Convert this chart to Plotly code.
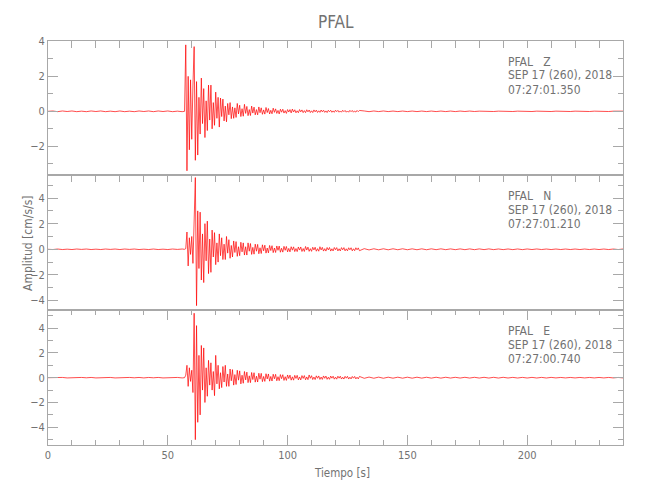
import numpy as np
import plotly.graph_objects as go

# ---------------- data ----------------
station = "PFAL"
components = ["Z", "N", "E"]
date_label = "SEP 17 (260), 2018"
start_times = ["07:27:01.350", "07:27:01.210", "07:27:00.740"]
x_title = "Tiempo [s]"
y_title = "Amplitud [cm/s/s]"

# sampling of the three segments (pre-event, strong motion, coda tail)
pre_t0, pre_dt = 0.0, 2.0
act_t0, act_dt = 57.0, 0.5
tail_t0, tail_dt = 132.0, 2.0

z_pre = [0.0, 0.02, -0.02, 0.02, -0.01, 0.02, -0.02, 0.01, -0.02, 0.02,
         -0.01, 0.02, -0.02, 0.01, -0.02, 0.02, -0.02, 0.01, -0.02, 0.02,
         -0.01, 0.02, -0.02, 0.02, -0.01, 0.02, -0.02, 0.01, -0.02]
z_act = [0.0,
         3.8, -3.4, 2.0, -2.2, 1.8, -1.6, 1.5, 3.7, -2.8, 1.7,
         -2.5, 0.8, -1.3, 1.9, -0.7, 1.3, -1.5, 0.6, -1.1, 1.5,
         -0.5, 1.5, -1.0, 0.5, -0.8, 1.1, -0.4, 0.8, -0.9, 0.76,
         -0.3, 0.7, -0.55, 0.3, -0.6, 0.45, -0.2, 0.5, -0.42, 0.25,
         -0.4, 0.2, -0.35, 0.45, -0.15, 0.35, -0.3, 0.15, -0.28, 0.4,
         -0.12, 0.28, -0.25, 0.1, -0.24, 0.3, -0.1, 0.24, -0.2, 0.1,
         -0.2, 0.25, -0.08, 0.2, -0.17, 0.08, -0.16, 0.22, -0.07, 0.16,
         -0.15, 0.06, -0.14, 0.18, -0.06, 0.14, -0.12, 0.05, -0.15, 0.12,
         -0.05, 0.12, -0.1, 0.04, -0.12, 0.1, -0.04, 0.1, -0.09, 0.13,
         -0.04, 0.09, -0.085, 0.03, -0.08, 0.1, -0.03, 0.08, -0.075, 0.04,
         -0.075, 0.09, -0.03, 0.075, -0.07, 0.03, -0.07, 0.08, -0.03, 0.07,
         -0.065, 0.03, -0.06, 0.075, -0.03, 0.065, -0.06, 0.025, -0.07, 0.06,
         -0.025, 0.06, -0.055, 0.025, -0.055, 0.065, -0.02, 0.055, -0.05, 0.02,
         -0.05, 0.06, -0.02, 0.05, -0.05, 0.02, -0.05, 0.055, -0.02, 0.05,
         -0.05, 0.02, -0.045, 0.05, -0.02, 0.05]
z_tail = [0.02, -0.02, 0.02, -0.015, 0.02, -0.015, 0.015, -0.015, 0.015, -0.015,
          0.015, -0.015, 0.015, -0.015, 0.015, -0.015, 0.015, -0.015, 0.015, -0.015,
          0.015, -0.01, 0.015, -0.01, 0.01, -0.01, 0.01, -0.01, 0.01, -0.01,
          0.01, -0.01, 0.01, -0.01, 0.01, -0.01, 0.01, -0.01, 0.01, -0.01,
          0.01, -0.01, 0.01, -0.01, 0.01, -0.01, 0.01, -0.01, 0.01, -0.01,
          0.01, -0.01, 0.01, -0.01, 0.01]

n_pre = [0.0, -0.02, 0.02, -0.02, 0.01, -0.02, 0.02, -0.01, 0.02, -0.02,
         0.01, -0.02, 0.02, -0.01, 0.02, -0.02, 0.02, -0.01, 0.02, -0.02,
         0.01, -0.02, 0.02, -0.02, 0.01, -0.02, 0.02, -0.01, 0.02]
n_act = [0.0,
         0.05, 1.35, -1.3, 0.9, -0.4, 1.0, -1.1, 2.6, 5.6, -4.4,
         3.0, -1.5, 2.9, -2.4, 1.2, -2.6, 2.0, -0.9, 2.2, -1.9,
         0.8, -1.8, 1.5, -0.6, 1.3, -1.2, 0.5, -1.0, 1.2, -0.5,
         0.9, -0.8, 0.4, -0.8, 1.0, -0.3, 0.75, -0.7, 0.3, -0.6,
         0.65, -0.25, 0.6, -0.55, 0.2, -0.5, 0.55, -0.2, 0.5, -0.45,
         0.2, -0.45, 0.5, -0.15, 0.45, -0.4, 0.15, -0.38, 0.4, -0.15,
         0.38, -0.35, 0.12, -0.33, 0.35, -0.12, 0.32, -0.3, 0.1, -0.28,
         0.3, -0.1, 0.28, -0.26, 0.1, -0.25, 0.26, -0.08, 0.25, -0.23,
         0.08, -0.22, 0.23, -0.08, 0.22, -0.2, 0.07, -0.2, 0.2, -0.07,
         0.19, -0.18, 0.06, -0.18, 0.18, -0.06, 0.18, -0.17, 0.06, -0.17,
         0.22, -0.06, 0.17, -0.16, 0.05, -0.16, 0.16, -0.05, 0.16, -0.15,
         0.05, -0.15, 0.2, -0.05, 0.15, -0.14, 0.05, -0.14, 0.14, -0.05,
         0.14, -0.14, 0.04, -0.13, 0.14, -0.04, 0.13, -0.13, 0.04, -0.13,
         0.13, -0.04, 0.13, -0.12, 0.04, -0.12, 0.12, -0.04, 0.12, -0.12,
         0.04, -0.11, 0.12, -0.04, 0.11, -0.11]
n_tail = [0.05, -0.05, 0.04, -0.04, 0.04, -0.04, 0.04, -0.035, 0.04, -0.035,
          0.035, -0.035, 0.035, -0.035, 0.035, -0.03, 0.035, -0.03, 0.03, -0.03,
          0.03, -0.03, 0.03, -0.03, 0.03, -0.025, 0.03, -0.025, 0.025, -0.025,
          0.025, -0.025, 0.025, -0.025, 0.025, -0.02, 0.025, -0.02, 0.02, -0.02,
          0.02, -0.02, 0.02, -0.02, 0.02, -0.02, 0.02, -0.02, 0.02, -0.02,
          0.02, -0.02, 0.02, -0.02, 0.02]

e_pre = [0.0, 0.02, -0.01, 0.02, -0.02, 0.01, -0.02, 0.02, -0.01, 0.02,
         -0.02, 0.01, -0.02, 0.02, -0.02, 0.01, -0.02, 0.02, -0.01, 0.02,
         -0.02, 0.02, -0.01, 0.02, -0.02, 0.01, -0.02, 0.02, -0.02]
e_act = [0.0,
         0.2, 1.0, -0.7, 0.8, -0.3, 0.6, -1.2, 5.2, -5.0, 4.2,
         -3.6, 1.8, -3.0, 2.6, -1.0, 2.4, -2.0, 0.8, -1.5, 1.4,
         -0.6, 1.2, -1.0, 0.5, -1.45, 1.8, -0.5, 1.0, -0.9, 0.4,
         -0.8, 0.9, -0.35, 1.0, -0.7, 0.3, -0.7, 0.7, -0.25, 0.65,
         -0.6, 0.25, -0.55, 0.6, -0.2, 0.55, -0.5, 0.2, -0.45, 0.5,
         -0.18, 0.45, -0.4, 0.15, -0.4, 0.42, -0.15, 0.4, -0.36, 0.12,
         -0.35, 0.36, -0.12, 0.35, -0.32, 0.1, -0.3, 0.32, -0.1, 0.3,
         -0.28, 0.1, -0.27, 0.28, -0.09, 0.27, -0.25, 0.08, -0.24, 0.25,
         -0.08, 0.24, -0.22, 0.08, -0.22, 0.22, -0.07, 0.21, -0.2, 0.07,
         -0.2, 0.19, -0.06, 0.19, -0.18, 0.06, -0.18, 0.17, -0.06, 0.17,
         -0.17, 0.06, -0.16, 0.22, -0.05, 0.16, -0.15, 0.05, -0.15, 0.15,
         -0.05, 0.14, -0.14, 0.05, -0.14, 0.14, -0.05, 0.13, -0.13, 0.04,
         -0.13, 0.13, -0.04, 0.12, -0.12, 0.04, -0.12, 0.12, -0.04, 0.12,
         -0.11, 0.04, -0.11, 0.11, -0.04, 0.11, -0.11, 0.04, -0.1, 0.1,
         -0.04, 0.1, -0.1, 0.04, -0.1, 0.1]
e_tail = [-0.05, 0.05, -0.045, 0.045, -0.045, 0.04, -0.04, 0.04, -0.04, 0.04,
          -0.04, 0.04, -0.035, 0.035, -0.035, 0.035, -0.035, 0.035, -0.03, 0.03,
          -0.03, 0.03, -0.03, 0.03, -0.03, 0.03, -0.03, 0.03, -0.03, 0.03,
          -0.025, 0.025, -0.025, 0.025, -0.025, 0.025, -0.025, 0.025, -0.025, 0.025,
          -0.02, 0.02, -0.02, 0.02, -0.02, 0.02, -0.02, 0.02, -0.02, 0.02,
          -0.02, 0.02, -0.02, 0.02, -0.02]

x_range = [0, 240]
y_ranges = [[-3.64, 4.02], [-4.74, 5.8], [-5.43, 5.46]]

# ---------------- build ----------------
def series(pre, act, tail):
    t = np.concatenate([
        pre_t0 + pre_dt * np.arange(len(pre)),
        act_t0 + act_dt * np.arange(len(act)),
        tail_t0 + tail_dt * np.arange(len(tail)),
    ])
    v = np.concatenate([pre, act, tail])
    return t, v

traces = [series(z_pre, z_act, z_tail),
          series(n_pre, n_act, n_tail),
          series(e_pre, e_act, e_tail)]

FONT = "DejaVu Sans Condensed, DejaVu Sans, sans-serif"
TXT = "#727272"
AX = "#a8a8a8"

# the page adds an 8px body margin; work in reference pixels and shift
OFF = 8
W, H = 650 - OFF, 500 - OFF
L = 48 - OFF
R = W - (623 - OFF)
T = 41 - OFF
B = H - (445 - OFF)
plot_w = W - L - R
plot_h = H - T - B
panels_px = [(41, 175), (175, 310), (310, 445)]

def px(xref):
    return (xref - OFF - L) / plot_w

def py(yref):
    return (H - B - (yref - OFF)) / plot_h

fig = go.Figure()
for i, (t, v) in enumerate(traces):
    k = "" if i == 0 else str(i + 1)
    fig.add_trace(go.Scatter(x=t, y=v, mode="lines",
                             line=dict(color="#ff0000", width=0.7),
                             xaxis="x" + k, yaxis="y" + k,
                             showlegend=False, hoverinfo="skip"))

layout = dict(width=W, height=H,
              margin=dict(l=L, r=R, t=T, b=B, autoexpand=False),
              paper_bgcolor="white", plot_bgcolor="white",
              font=dict(family=FONT, color=TXT, size=11),
              showlegend=False)

for i in range(3):
    k = "" if i == 0 else str(i + 1)
    top, bot = panels_px[i]
    dom = [py(bot), py(top)]
    last = (i == 2)
    xa = dict(domain=[0, 1], range=x_range, anchor="y" + k,
              showgrid=False, zeroline=False,
              showline=True, linecolor=AX, linewidth=1,
              ticks="inside", tickcolor=AX, tickwidth=1,
              tickfont=dict(family=FONT, color=TXT, size=11))
    if last:
        xa.update(dtick=50, tick0=0, ticklen=10, mirror="ticks",
                  showticklabels=True,
                  minor=dict(dtick=10, tick0=0, ticklen=5, ticks="inside",
                             tickcolor=AX, showgrid=False))
    else:
        xa.update(side="top", dtick=10, tick0=0, ticklen=7, mirror=True,
                  showticklabels=False, matches="x3")
    ya = dict(domain=dom, range=y_ranges[i], anchor="x" + k,
              showgrid=False, zeroline=False,
              showline=True, linecolor=AX, linewidth=1, mirror="ticks",
              ticks="inside", tickcolor=AX, tickwidth=1, ticklen=10,
              dtick=2, tick0=0,
              tickfont=dict(family=FONT, color=TXT, size=11),
              minor=dict(dtick=1, tick0=0, ticklen=5, ticks="inside",
                         tickcolor=AX, showgrid=False))
    layout["xaxis" + k] = xa
    layout["yaxis" + k] = ya

anns = []
anns.append(dict(text=station, x=px(336), y=py(22),
                 xref="paper", yref="paper", showarrow=False,
                 xanchor="center", yanchor="middle",
                 font=dict(family=FONT, size=17, color=TXT)))
anns.append(dict(text=x_title, x=px(342), y=py(473),
                 xref="paper", yref="paper", showarrow=False,
                 xanchor="center", yanchor="middle",
                 font=dict(family=FONT, size=11.5, color=TXT)))
anns.append(dict(text=y_title, x=px(28), y=py(243),
                 xref="paper", yref="paper", showarrow=False, textangle=-90,
                 xanchor="center", yanchor="middle",
                 font=dict(family=FONT, size=12, color=TXT)))

line_offsets = [21.0, 34.5, 49.0]
for i in range(3):
    top = panels_px[i][0]
    lines = [station + "\u00a0\u00a0\u00a0" + components[i], date_label, start_times[i]]
    for off, txt in zip(line_offsets, lines):
        anns.append(dict(text=txt, x=px(506), y=py(top + off),
                         xref="paper", yref="paper", showarrow=False,
                         xanchor="left", yanchor="middle",
                         font=dict(family=FONT, size=12, color=TXT)))
layout["annotations"] = anns

fig.update_layout(**layout)
fig.write_html("out.html")
